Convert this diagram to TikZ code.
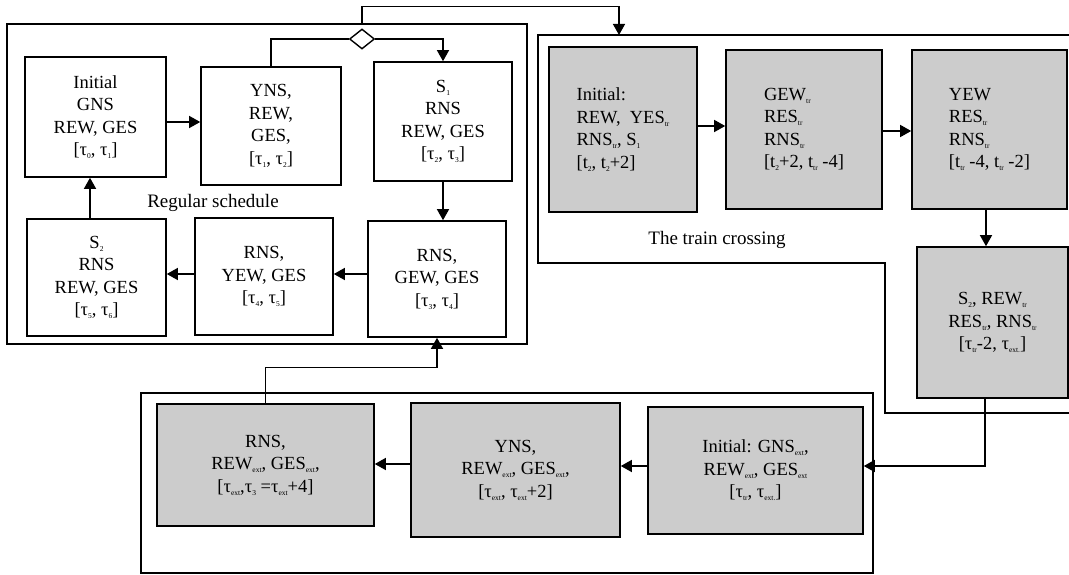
\documentclass[tikz,border=0pt]{standalone}
\usepackage{fontspec}
\setmainfont{Liberation Serif}
\usetikzlibrary{arrows.meta,shapes.geometric}
\definecolor{boxgray}{RGB}{204,204,204}
\newcommand\sbs[1]{\raisebox{-3pt}{\fontsize{7.5}{8}\selectfont #1}}
\begin{document}
\begin{tikzpicture}[x=1pt,y=-1pt,
  box/.style={draw=black, line width=1.6pt, inner sep=0pt, align=center, font=\fontsize{18.5}{22.5}\selectfont},
  gbox/.style={box, fill=boxgray},
  lbox/.style={gbox, align=left},
  cont/.style={draw=black, line width=1.5pt, inner sep=0pt},
  conn/.style={line width=1.4pt},
  arr/.style={conn, -{Triangle[length=11pt,width=12pt]}},
  lbl/.style={font=\fontsize{19}{22}\selectfont, inner sep=0pt}]
\useasboundingbox (0,0) rectangle (1069,575);
\clip (0,0) rectangle (1069,575);

% containers
\node[cont, minimum width=520pt, minimum height=320pt] (reg) at (267,184) {};
\node[cont, minimum width=732pt, minimum height=180pt] (ext) at (507,483) {};
\coordinate (t1c) at (538,35);
\coordinate (t2c) at (1085,35);
\coordinate (t3c) at (1085,413);
\coordinate (t4c) at (885,413);
\coordinate (t5c) at (885,263);
\coordinate (t6c) at (538,263);
\draw[line width=1.5pt] (t1c) -- (t2c) -- (t3c) -- (t4c) -- (t5c) -- (t6c) -- cycle;
\coordinate (tin) at (619,35);

% regular schedule
\node[box, minimum width=141pt, minimum height=120pt] (A) at (95.5,117) {Initial\\GNS\\REW, GES\\{}[τ\sbs{0}, τ\sbs{1}]};
\node[box, minimum width=140pt, minimum height=118pt] (B) at (271,126) {YNS,\\REW,\\GES,\\{}[τ\sbs{1}, τ\sbs{2}]};
\node[box, minimum width=138pt, minimum height=119pt] (C) at (443,121.5) {S\sbs{1}\\RNS\\REW, GES\\{}[τ\sbs{2}, τ\sbs{3}]};
\node[box, minimum width=139pt, minimum height=117pt] (D) at (96.5,277.5) {S\sbs{2}\\RNS\\REW, GES\\{}[τ\sbs{5}, τ\sbs{6}]};
\node[box, minimum width=138pt, minimum height=117pt] (E) at (264,276.5) {RNS,\\YEW, GES\\{}[τ\sbs{4}, τ\sbs{5}]};
\node[box, minimum width=138pt, minimum height=116pt] (F) at (437,279) {RNS,\\GEW, GES\\{}[τ\sbs{3}, τ\sbs{4}]};
\node[draw=black, line width=1.4pt, shape=diamond, minimum width=25pt, minimum height=20pt, inner sep=0pt, fill=white] (dia) at (362,39) {};
\node[lbl] (rs) at (213,203) {Regular schedule};

% train crossing
\node[lbox, minimum width=148pt, minimum height=165pt] (T1) at (623,129.5) {Initial:\\REW,\ \ YES\sbs{tr}\\RNS\sbs{tr}, S\sbs{1}\\{}[t\sbs{2}, t\sbs{2}+2]};
\node[lbox, minimum width=156pt, minimum height=159pt] (T2) at (804,129.5) {GEW\sbs{tr}\\RES\sbs{tr}\\RNS\sbs{tr}\\{}[t\sbs{2}+2, t\sbs{tr} -4]};
\node[lbox, minimum width=155pt, minimum height=159pt] (T3) at (989.5,129.5) {YEW\\RES\sbs{tr}\\RNS\sbs{tr}\\{}[t\sbs{tr} -4, t\sbs{tr} -2]};
\node[gbox, minimum width=151pt, minimum height=151pt] (T4) at (992.5,322.5) {S\sbs{2}, REW\sbs{tr}\\RES\sbs{tr}, RNS\sbs{tr}\\{}[τ\sbs{tr}-2, τ\sbs{ext.}]};
\node[lbl] (tc) at (717,240) {The train crossing};

% extension
\node[gbox, minimum width=215pt, minimum height=127pt] (E1) at (755.5,470.5) {Initial: GNS\sbs{ext},\\REW\sbs{ext}, GES\sbs{ext}\\{}[τ\sbs{tr}, τ\sbs{ext.}]};
\node[gbox, minimum width=209pt, minimum height=134pt] (E2) at (515.5,470) {YNS,\\REW\sbs{ext}, GES\sbs{ext},\\{}[τ\sbs{ext}, τ\sbs{ext}+2]};
\node[gbox, minimum width=217pt, minimum height=122pt] (E3) at (265.5,465) {RNS,\\REW\sbs{ext}, GES\sbs{ext},\\{}[τ\sbs{ext},τ\sbs{3} =τ\sbs{ext}+4]};

% connectors
\draw[arr] (dia |- reg.north) -- ++(0,-17) -| (tin);
\draw[conn] (dia.west) -| (B.north);
\draw[arr] (dia.east) -| (C.north);
\draw[arr] (A.east |- 0,122) -- (B.west |- 0,122);
\draw[arr] (C.south) -- (C.south |- F.north);
\draw[arr] (F.west |- 0,274) -- (E.east |- 0,274);
\draw[arr] (E.west |- 0,274) -- (D.east |- 0,274);
\draw[arr] (D.north -| 90,0) -- (A.south -| 90,0);
\draw[arr] (T1.east |- 0,126) -- (T2.west |- 0,126);
\draw[arr] (T2.east |- 0,131) -- (T3.west |- 0,131);
\draw[arr] (T3.south -| 986,0) -- (T4.north -| 986,0);
\draw[arr] (T4.south -| 985,0) -- (985,466) -- (E1.east |- 0,466);
\draw[arr] (E1.west |- 0,466) -- (E2.east |- 0,466);
\draw[arr] (E2.west |- 0,464) -- (E3.east |- 0,464);
\draw[arr] (E3.north) -- ++(0,-36) -| (F.south);
\end{tikzpicture}
\end{document}
